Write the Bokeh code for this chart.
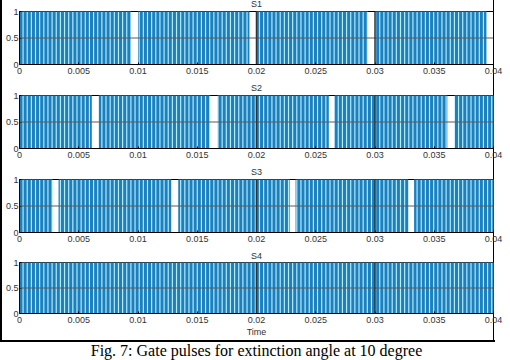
from bokeh.plotting import figure
from bokeh.layouts import column
from bokeh.models import Span, Title, Range1d
from bokeh.embed import file_html
from bokeh.resources import INLINE

# ---------------- data ----------------
series_names = ["S1", "S2", "S3", "S4"]
x_ticks = [0, 0.005, 0.01, 0.015, 0.02, 0.025, 0.03, 0.035, 0.04]
x_tick_labels = ["0", "0.005", "0.01", "0.015", "0.02", "0.025", "0.03", "0.035", "0.04"]
y_ticks = [0, 0.5, 1]
y_tick_labels = ["0", "0.5", "1"]
t_end = 0.04
carrier_period = 0.00035      # spacing of the gate pulses (s)
pulse_on_fraction = 0.72      # part of each carrier period that is high
# windows (s) where the gate signal stays low (extinction intervals)
s1_off = [[0.0094, 0.0100], [0.0194, 0.0200], [0.0294, 0.0300], [0.0394, 0.0400]]
s2_off = [[0.0061, 0.0067], [0.0161, 0.0167], [0.0261, 0.0266], [0.0361, 0.0367]]
s3_off = [[0.0028, 0.0033], [0.0128, 0.0134], [0.0228, 0.0233], [0.0328, 0.0333]]
s4_off = []
x_label = "Time"
caption = "Fig. 7: Gate pulses for extinction angle at 10 degree"

BLUE = "#1a80bf"
LIGHT = "#bdebf7"
FONT = "Liberation Sans"


def subtract(segs, off):
    for g0, g1 in off:
        new = []
        for s, e in segs:
            if e <= g0 or s >= g1:
                new.append((s, e))
            else:
                if s < g0:
                    new.append((s, g0))
                if e > g1:
                    new.append((g1, e))
        segs = new
    return segs


def pulses(off):
    lefts, rights = [], []
    k = 0
    while k * carrier_period < t_end:
        a = k * carrier_period
        b = min(a + pulse_on_fraction * carrier_period, t_end)
        for s, e in subtract([(a, b)], off):
            lefts.append(s)
            rights.append(e)
        k += 1
    return lefts, rights


def make_panel(name, off, height, top, bottom, title_standoff, last, styles=None):
    kw = {}
    if styles:
        kw["styles"] = styles
    p = figure(width=510, height=height, x_range=Range1d(0, t_end), y_range=Range1d(0, 1),
               output_backend="svg", toolbar_location=None,
               min_border_left=19, min_border_right=17,
               min_border_top=top, min_border_bottom=bottom,
               border_fill_color=None, background_fill_color="white",
               outline_line_color="black", outline_line_width=1, **kw)
    p.title.text = name
    p.title.align = "center"
    p.title.text_font = FONT
    p.title.text_font_size = "9px"
    p.title.text_font_style = "normal"
    p.title.text_color = "#333333"
    p.title.standoff = title_standoff
    p.title.offset = 0

    act = subtract([(0.0, t_end)], off)
    p.quad(left=[s for s, e in act], right=[e for s, e in act], bottom=0, top=1,
           fill_color=LIGHT, line_color=None)
    l, r = pulses(off)
    p.quad(left=l, right=r, bottom=0, top=1, fill_color=BLUE, line_color=None)

    p.add_layout(Span(location=0.5, dimension="width", line_color="#5a5a5a", line_width=1))
    for xv in (0.02, 0.03):
        p.add_layout(Span(location=xv, dimension="height", line_color="#333333", line_width=1.5))

    p.xgrid.visible = False
    p.ygrid.visible = False
    p.xaxis.ticker = x_ticks
    p.xaxis.major_label_overrides = {t: s for t, s in zip(x_ticks, x_tick_labels)}
    p.yaxis.ticker = y_ticks
    p.yaxis.major_label_overrides = {t: s for t, s in zip(y_ticks, y_tick_labels)}
    for ax in (p.xaxis[0], p.yaxis[0]):
        ax.major_tick_in = 2
        ax.major_tick_out = 0
        ax.minor_tick_line_color = None
        ax.axis_line_color = "black"
        ax.major_label_text_font = FONT
        ax.major_label_text_font_size = "9px"
        ax.major_label_text_color = "#333333"
    p.xaxis.major_label_standoff = 3
    p.yaxis.major_label_standoff = 1

    if last:
        p.xaxis.axis_label = x_label
        p.xaxis.axis_label_text_font = FONT
        p.xaxis.axis_label_text_font_size = "9px"
        p.xaxis.axis_label_text_font_style = "normal"
        p.xaxis.axis_label_text_color = "#333333"
        p.xaxis.axis_label_standoff = 1
        p.add_layout(Title(text=caption, align="center", text_font="Liberation Serif",
                           text_font_size="16px", text_font_style="normal",
                           text_color="black", standoff=1), "below")
    return p


offs = [s1_off, s2_off, s3_off, s4_off]
# (height, top border, bottom border, title standoff)
geom = [(86, 19, 14, 6), (84, 17, 14, 5), (84, 17, 14, 5), (114, 16, 47, 4)]
panels = []
for i, (nm, off) in enumerate(zip(series_names, offs)):
    h, t, b, so = geom[i]
    st = {"margin-top": "-8px"} if i == 0 else None
    panels.append(make_panel(nm, off, h, t, b, so, i == 3, st))

layout = column(*panels, spacing=0, styles={
    "background-image": "linear-gradient(#000,#000), linear-gradient(#000,#000), linear-gradient(#000,#000)",
    "background-size": "2px 342px, 1px 342px, 495px 2px",
    "background-position": "0px 0px, 493px 0px, 0px 340px",
    "background-repeat": "no-repeat",
    "overflow": "hidden",
})

open("out.html", "w").write(file_html(layout, INLINE))
